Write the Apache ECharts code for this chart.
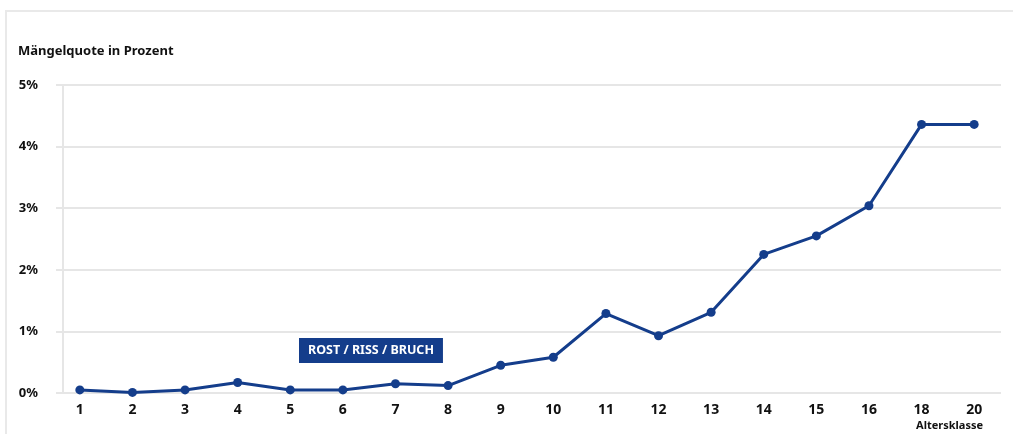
<!DOCTYPE html>
<html>
<head>
<meta charset="utf-8">
<script src="https://cdn.jsdelivr.net/npm/echarts@6/dist/echarts.min.js"></script>
<style>
  html, body { margin: 0; padding: 0; background: #fff; }
  #frame {
    position: absolute; left: 5px; top: 10px; width: 1008px; height: 424px;
    border-top: 2px solid #e9e9e9; border-left: 2px solid #e9e9e9;
  }
  #chart { position: absolute; left: 0; top: 0; width: 1013px; height: 434px; }
</style>
</head>
<body>
<div id="frame"></div>
<div id="chart"></div>
<script>
// Altersklassen (x-Achse)
const categories = ["1", "2", "3", "4", "5", "6", "7", "8", "9", "10",
  "11", "12", "13", "14", "15", "16", "18", "20"];
// Mängelquote in Prozent
const quote = [0.05, 0.01, 0.05, 0.17, 0.05, 0.05, 0.15, 0.12, 0.45, 0.58,
  1.29, 0.93, 1.31, 2.25, 2.55, 3.04, 4.36, 4.36];
const seriesName = "ROST / RISS / BRUCH";

const font = "'Noto Sans', sans-serif";
const blue = "#143d8b";
const gridGray = "#e6e6e6";

const chart = echarts.init(document.getElementById("chart"));
chart.setOption({
  animation: false,
  title: {
    text: "Mängelquote in Prozent",
    left: 13,
    top: 40,
    textStyle: { fontFamily: font, fontSize: 13, fontWeight: "bold", color: "#111" }
  },
  legend: {
    data: [{ name: seriesName, icon: "none" }],
    left: 299,
    top: 338,
    itemWidth: 0,
    itemHeight: 0,
    selectedMode: false,
    backgroundColor: blue,
    padding: [6, 9, 6, 4],
    textStyle: { fontFamily: font, fontSize: 12.5, fontWeight: "bold", color: "#fff" }
  },
  grid: { left: 63, right: 12, top: 85, bottom: 41, containLabel: false },
  xAxis: {
    type: "value",
    min: -0.32,
    max: 17.51,
    name: "Altersklasse",
    nameLocation: "end",
    nameGap: -18,
    nameTextStyle: {
      fontFamily: font, fontSize: 11, fontWeight: "bold", color: "#111",
      align: "right", verticalAlign: "top", padding: [27, 0, 0, 0]
    },
    axisLine: { show: false },
    axisTick: { show: false },
    splitLine: { show: false },
    axisLabel: {
      customValues: categories.map((c, i) => i),
      formatter: (v) => categories[v],
      margin: 10,
      fontFamily: font, fontSize: 14, fontWeight: "bold", color: "#111"
    }
  },
  yAxis: {
    type: "value",
    min: 0,
    max: 5,
    interval: 1,
    axisLine: { show: true, onZero: false, lineStyle: { color: gridGray, width: 2 } },
    axisTick: { show: true, length: 7, lineStyle: { color: gridGray, width: 2 } },
    splitLine: { lineStyle: { color: gridGray, width: 2 } },
    axisLabel: {
      formatter: "{value}%",
      margin: 25,
      fontFamily: font, fontSize: 13, fontWeight: "bold", color: "#111"
    }
  },
  series: [{
    name: seriesName,
    type: "line",
    data: quote.map((v, i) => [i, v]),
    symbol: "circle",
    symbolSize: 9,
    itemStyle: { color: blue },
    lineStyle: { color: blue, width: 3 }
  }]
});
</script>
</body>
</html>
